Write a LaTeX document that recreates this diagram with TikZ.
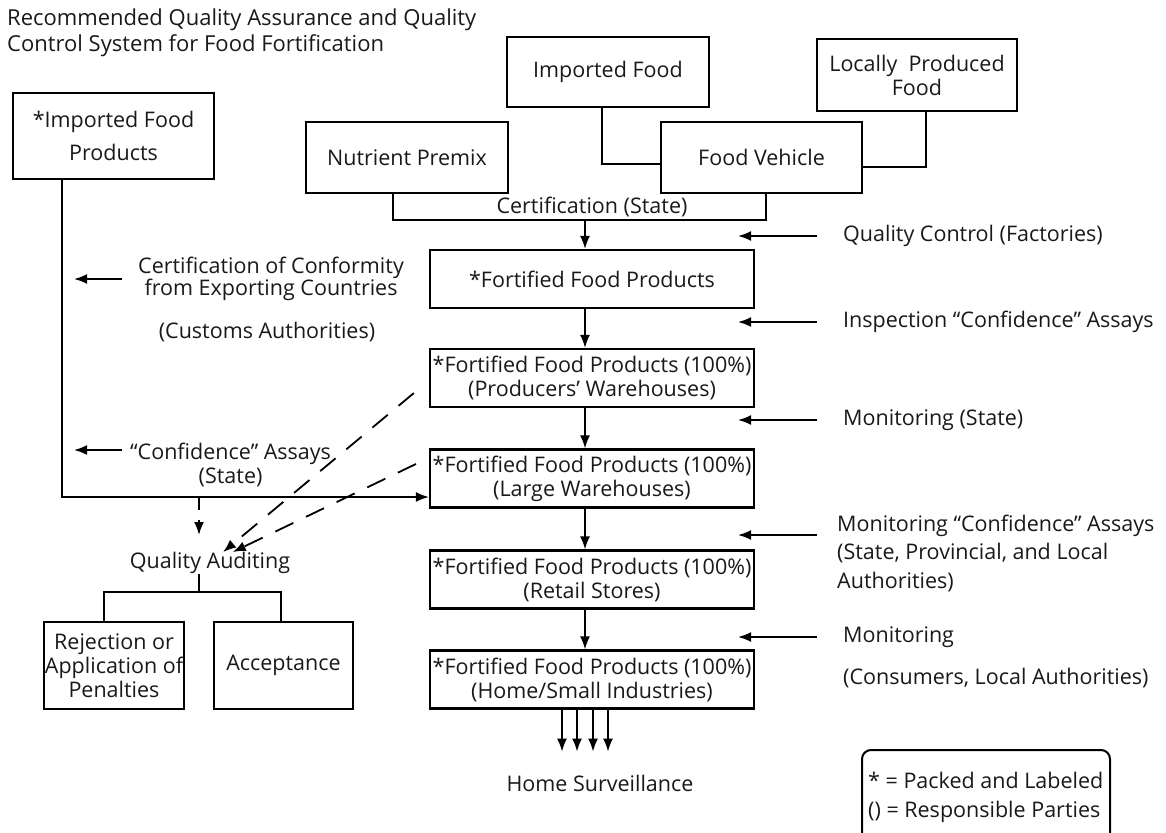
\documentclass[tikz,border=0pt]{standalone}
\usepackage{fontspec}
\setmainfont{Open Sans}
\usetikzlibrary{arrows.meta}

\begin{document}
\begin{tikzpicture}[x=1pt, y=-1pt,
  every node/.style={font=\fontsize{21.5}{24}\selectfont, text=black!90, inner sep=0pt},
  box/.style={draw, line width=2.2pt, align=center},
  arrow/.style={line width=1.8pt, -{Latex[length=13pt,width=10pt]}},
  dashedarrow/.style={arrow, dash pattern=on 20pt off 14pt}]

\useasboundingbox (0,0) rectangle (1166,832);

\node[anchor=west, align=left, font=\fontsize{22}{26}\selectfont] (title) at (7,33) {Recommended Quality Assurance and Quality\\Control System for Food Fortification};

\node[box, minimum width=201, minimum height=86] (impprod) at (113.5,136) {*Imported Food\\[9pt]Products};
\node[box, minimum width=202, minimum height=71] (premix) at (407,157.5) {Nutrient Premix};
\node[box, minimum width=202, minimum height=70] (impfood) at (608,72) {Imported Food};
\node[box, minimum width=201, minimum height=71] (vehicle) at (761.5,157.5) {Food Vehicle};
\node[box, minimum width=200, minimum height=72] (local) at (917,75) {Locally\ \ Produced\\Food};

\node[box, minimum width=324, minimum height=58] (fort1) at (592,279) {*Fortified Food Products};
\node[box, minimum width=324, minimum height=58] (fort2) at (592,378) {*Fortified Food Products (100\%)\\(Producers’ Warehouses)};
\node[box, minimum width=324, minimum height=58] (fort3) at (592,478.5) {*Fortified Food Products (100\%)\\(Large Warehouses)};
\node[box, minimum width=324, minimum height=58] (fort4) at (592,579.5) {*Fortified Food Products (100\%)\\(Retail Stores)};
\node[box, minimum width=324, minimum height=58] (fort5) at (592,679.5) {*Fortified Food Products (100\%)\\(Home/Small Industries)};

\node[box, minimum width=140, minimum height=87] (reject) at (114,665.5) {Rejection or\\Application of\\Penalties};
\node[box, minimum width=139, minimum height=87] (accept) at (283.5,665.5) {Acceptance};

\node (cert) at (592,207) {Certification (State)};
\node[align=center, font=\fontsize{21.5}{22}\selectfont, anchor=west] (confcert) at (138,279) {Certification of Conformity\\from Exporting Countries};
\node (customs) at (267,332) {(Customs Authorities)};
\node[align=center, anchor=west] (confassay) at (130,465) {“Confidence” Assays\\(State)};
\node (audit) at (210,563) {Quality Auditing};
\node (home) at (600,783) {Home Surveillance};

\node[anchor=west] (qc) at (843,236) {Quality Control (Factories)};
\node[anchor=west] (insp) at (843,322) {Inspection “Confidence” Assays};
\node[anchor=west] (monstate) at (843,420) {Monitoring (State)};
\node[anchor=west, align=left, font=\fontsize{21.5}{28.5}\selectfont] (monconf) at (837,553) {Monitoring “Confidence” Assays\\(State, Provincial, and Local\\Authorities)};
\node[anchor=west] (moncons) at (843,637) {Monitoring};
\node[anchor=west] (consumers) at (843,678) {(Consumers, Local Authorities)};

\coordinate (certjoin) at (585,220);
\coordinate (auditsplit) at (199,497);
\coordinate (auditfork) at (199,592);

\draw[line width=2.2pt] ([xshift=-6]impfood.south) |- ([yshift=-6.5]vehicle.west);
\draw[line width=2.2pt] ([xshift=9]local.south) |- ([yshift=-9.5]vehicle.east);
\draw[line width=2.2pt] ([xshift=-14]premix.south) |- (certjoin) -| ([xshift=4.5]vehicle.south);

\draw[arrow] (certjoin) -- (certjoin |- fort1.north);
\foreach \a/\b in {fort1/fort2, fort2/fort3, fort3/fort4, fort4/fort5}
  \draw[arrow] ([xshift=-7]\a.south) -- ([xshift=-7]\b.north);

\draw[arrow] ([xshift=-26]qc.west) -- ++(-79,0);
\draw[arrow] ([xshift=-26]insp.west) -- ++(-79,0);
\draw[arrow] ([xshift=-26]monstate.west) -- ++(-79,0);
\draw[arrow] ([xshift=-20,yshift=18]monconf.west) -- ++(-79,0);
\draw[arrow] ([xshift=-26]moncons.west) -- ++(-79,0);

\draw[arrow] ([xshift=-51.5]impprod.south) |- ([yshift=-18.5]fort3.west);
\draw[arrow] ([xshift=-16]confcert.west) -- ++(-48,0);
\draw[arrow] ([xshift=-8,yshift=15]confassay.west) -- ++(-48,0);

\draw[dashedarrow, dash pattern=on 13pt off 10pt] (auditsplit) -- (auditsplit |- 0,535);
\draw[dashedarrow] ([xshift=-15,yshift=-15]fort2.west) -- ([xshift=50,yshift=28]audit);
\draw[dashedarrow] ([xshift=-13,yshift=14.5]fort3.west) -- ([xshift=65,yshift=13]audit);

\draw[line width=2.2pt] (auditfork) -- (auditfork |- audit.south);
\draw[line width=2.2pt] ([xshift=-10]reject.north) |- (auditfork) -| ([xshift=-2.5]accept.north);

\foreach \dx in {-30,-15,1,16}
  \draw[arrow] ([xshift=\dx]fort5.south) -- ++(0,42);

\draw[line width=2pt, rounded corners=9] (862,750) rectangle (1110,850);
\node[anchor=west, align=left, font=\fontsize{21.5}{29}\selectfont] (legend) at (868,797.5) {* = Packed and Labeled\\() = Responsible Parties};

\end{tikzpicture}
\end{document}
